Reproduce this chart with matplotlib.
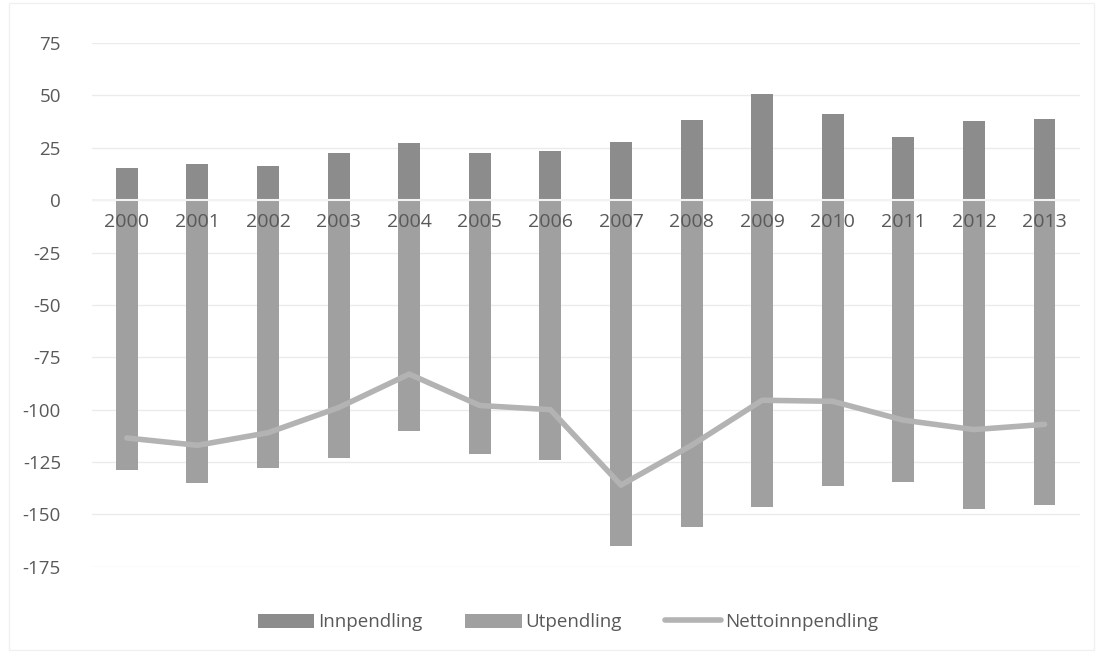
import numpy as np
import matplotlib
matplotlib.use('Agg')
import matplotlib.pyplot as plt
from matplotlib.patches import Rectangle

plt.rcParams['font.family'] = ['Open Sans', 'DejaVu Sans']

# Data
years = ['2000', '2001', '2002', '2003', '2004', '2005', '2006',
         '2007', '2008', '2009', '2010', '2011', '2012', '2013']
innpendling = [15.5, 17.5, 16.5, 22.5, 27.5, 22.5, 23.5,
               28, 38.5, 50.5, 41, 30, 38, 39]
utpendling = [-129, -135, -128, -123, -110, -121, -124,
              -165, -156, -146.5, -136.5, -134.5, -147.5, -145.5]
netto = [-113.5, -117, -111, -99, -83, -98, -100,
         -136, -117, -95.5, -96, -105, -109.5, -107]
yticks = [75, 50, 25, 0, -25, -50, -75, -100, -125, -150, -175]

fig = plt.figure(figsize=(11.03, 6.53), dpi=100)
ax = fig.add_axes([0.083, 0.132, 0.896, 0.802])

x = np.arange(len(years))
w = 0.31
b1 = ax.bar(x, innpendling, width=w, color='#8c8c8c', label='Innpendling', zorder=2)
b2 = ax.bar(x, utpendling, width=w, color='#a0a0a0', label='Utpendling', zorder=2)
l1, = ax.plot(x, netto, color='#b3b3b3', linewidth=4, label='Nettoinnpendling',
              zorder=3, solid_capstyle='round')

ax.axhline(0, color='#f2f2f2', linewidth=1.5, zorder=2.5)

ax.set_ylim(-175, 75)
ax.set_xlim(-0.5, len(years) - 0.5)
ax.set_yticks(yticks)
ax.set_yticklabels([str(t) for t in yticks])
ax.grid(axis='y', color='#ebebeb', linewidth=1, zorder=0)
ax.set_axisbelow(True)
ax.set_xticks([])
for s in ax.spines.values():
    s.set_visible(False)
ax.tick_params(axis='y', length=0, labelsize=13.5, labelcolor='#595959', pad=22)

# category labels sit just under the zero line, over the bars
for xi, lab in zip(x, years):
    ax.text(xi, -6, lab, ha='center', va='top', fontsize=14,
            color='#595959', zorder=4)

leg = fig.legend([b1, b2, l1], ['Innpendling', 'Utpendling', 'Nettoinnpendling'],
                 loc='center', bbox_to_anchor=(0.515, 0.047), ncol=3,
                 frameon=False, fontsize=13.5, handlelength=3.0,
                 handleheight=0.8, columnspacing=2.3, handletextpad=0.2)
for t in leg.get_texts():
    t.set_color('#595959')

fig.patches.append(Rectangle((0.008, 0.005), 0.984, 0.99, transform=fig.transFigure,
                             fill=False, edgecolor='#f0f0f0', linewidth=1))

fig.savefig('out.png', dpi=100, facecolor='white')
